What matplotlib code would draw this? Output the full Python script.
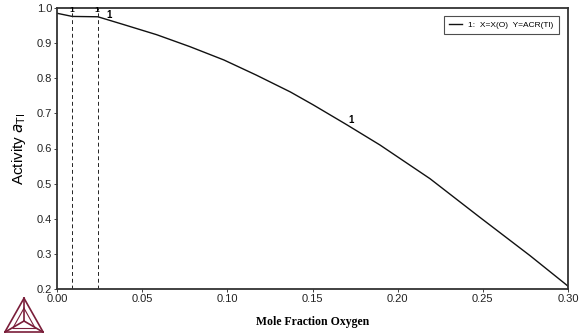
import matplotlib

matplotlib.use("Agg")
import matplotlib.pyplot as plt
from matplotlib.lines import Line2D

# curve 1: X=X(O), Y=ACR(Tl)
x_oxygen = [0.000, 0.009, 0.024, 0.039, 0.0585, 0.078, 0.098, 0.117, 0.137, 0.1505,
            0.170, 0.1896, 0.2092, 0.219, 0.248, 0.2777, 0.298, 0.300]
activity_tl = [0.985, 0.976, 0.975, 0.953, 0.924, 0.890, 0.852, 0.809, 0.761, 0.724,
               0.668, 0.610, 0.546, 0.514, 0.405, 0.295, 0.216, 0.208]

# dashed vertical markers
boundary_x = [0.009, 0.024]

# curve labels ("1")
label_x = [0.0305, 0.1726]
label_y = [0.980, 0.680]

x_ticks = [0.00, 0.05, 0.10, 0.15, 0.20, 0.25, 0.30]
x_ticklabels = ["0.00", "0.05", "0.10", "0.15", "0.20", "0.25", "0.30"]
y_ticks = [0.2, 0.3, 0.4, 0.5, 0.6, 0.7, 0.8, 0.9, 1.0]
y_ticklabels = ["0.2", "0.3", "0.4", "0.5", "0.6", "0.7", "0.8", "0.9", "1.0"]

plt.rcParams["font.family"] = ["Liberation Sans", "DejaVu Sans"]

fig = plt.figure(figsize=(5.81, 3.33), dpi=100)
ax = fig.add_axes([57 / 581, 1 - 289 / 333, 511 / 581, 281 / 333])

ax.plot(x_oxygen, activity_tl, color="#111111", linewidth=1.0, solid_joinstyle="round")
for bx in boundary_x:
    ax.axvline(bx, color="#222222", linewidth=0.7, linestyle=(0, (4, 3)))
    ax.text(bx - 0.0005, 0.992, "1", fontsize=6, fontweight="bold", ha="center", va="center")
for lx, ly in zip(label_x, label_y):
    ax.text(lx, ly, "1", fontsize=7, fontweight="bold", ha="center", va="center")

ax.set_xlim(0.0, 0.30)
ax.set_ylim(0.2, 1.0)
ax.set_xticks(x_ticks)
ax.set_xticklabels(x_ticklabels)
ax.set_yticks(y_ticks)
ax.set_yticklabels(y_ticklabels)
ax.tick_params(axis="both", direction="out", length=2, width=0.6, labelsize=8,
               colors="#222222", pad=1.5)
for spine in ax.spines.values():
    spine.set_linewidth(1.3)
    spine.set_color("#333333")

ax.set_ylabel(r"Activity $a_{\rm Tl}$", fontsize=11, labelpad=6)
fig.text(313 / 581, 1 - 322 / 333, "Mole Fraction Oxygen", family="Liberation Serif",
         fontsize=8.5, fontweight="bold", ha="center", va="center")

handle = Line2D([], [], color="#111111", linewidth=1.0)
leg = ax.legend([handle], ["1:  X=X(O)  Y=ACR(Tl)"], loc="upper right", fontsize=6,
                frameon=True, fancybox=False, handlelength=1.5, borderpad=0.6,
                bbox_to_anchor=(0.99, 0.985))
leg.get_frame().set_edgecolor("#222222")
leg.get_frame().set_linewidth(0.8)

# Thermo-Calc style logo in the bottom-left corner
logo = fig.add_axes([4 / 581, 0, 40 / 581, 36 / 333])
logo.set_xlim(0, 1)
logo.set_ylim(0, 0.9)
logo.axis("off")
c = "#7a1e3a"
apex, bl, br, centre = (0.5, 0.87), (0.02, 0.02), (0.98, 0.02), (0.5, 0.3)
for p, q in [(apex, bl), (bl, br), (br, apex), (apex, centre), (bl, centre), (br, centre)]:
    logo.plot([p[0], q[0]], [p[1], q[1]], color=c, linewidth=1.2)
inner_a, inner_l, inner_r = (0.5, 0.62), (0.22, 0.12), (0.78, 0.12)
for p, q in [(inner_a, inner_l), (inner_l, inner_r), (inner_r, inner_a)]:
    logo.plot([p[0], q[0]], [p[1], q[1]], color=c, linewidth=0.8)

fig.savefig("out.png", dpi=100)
